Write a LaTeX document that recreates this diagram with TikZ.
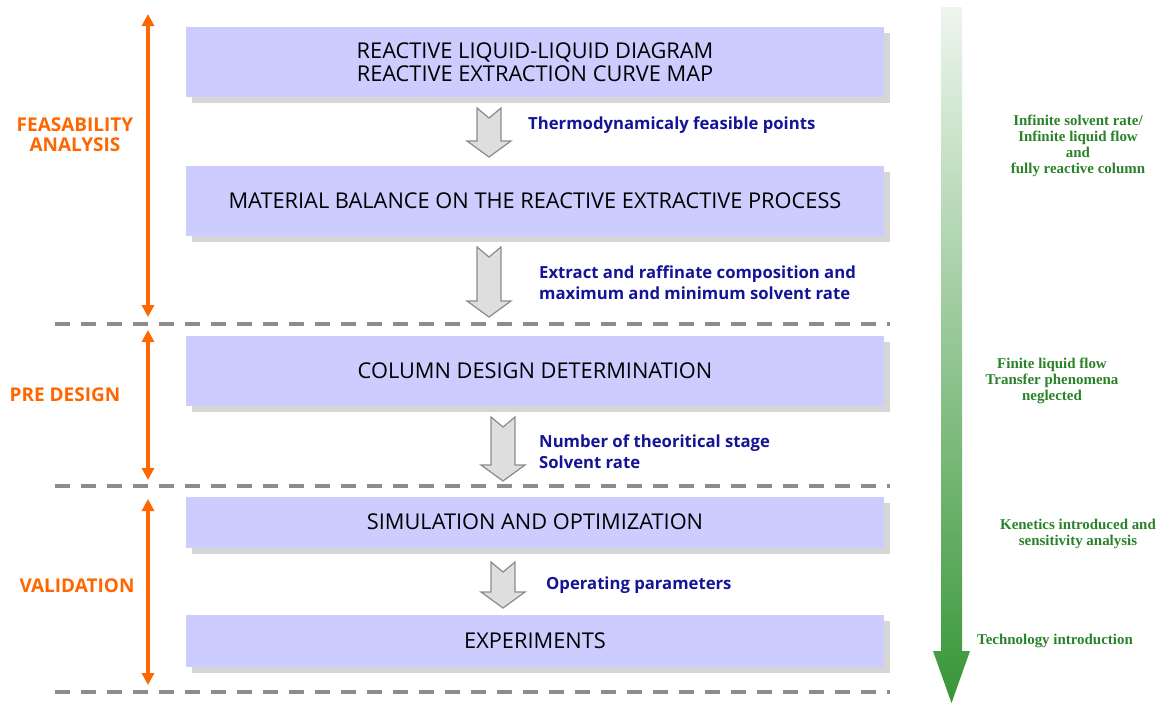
\documentclass[tikz,border=0pt]{standalone}
\usepackage{fontspec}
\setmainfont{Open Sans}
\newfontfamily\notefont{Liberation Serif}
\usetikzlibrary{arrows.meta, positioning, shadows}

\definecolor{BoxLilac}{RGB}{204, 204, 255}
\definecolor{StageOrange}{RGB}{255, 102, 0}
\definecolor{NoteBlue}{RGB}{20, 20, 150}
\definecolor{NoteGreen}{RGB}{40, 130, 40}
\definecolor{ArrowGreen}{RGB}{55, 150, 55}
\definecolor{DashGray}{RGB}{140, 140, 140}

\tikzset{
    pics/downblock/.style={code={
        \draw[blockarrow] (-12,0) -- (0,10) -- (12,0) -- (12,#1-16) -- (22,#1-16)
            -- (0,#1) -- (-22,#1-16) -- (-12,#1-16) -- cycle;
    }}
}

\begin{document}
\begin{tikzpicture}[
        x=0.02cm, y=-0.02cm,
        stagebox/.style={rectangle, fill=BoxLilac, minimum width=13.96cm, minimum height=1.4cm, align=center, font=\fontsize{12.4}{13.2}\selectfont, drop shadow={shadow xshift=0.12cm, shadow yshift=-0.12cm, fill=black!16, opacity=1}},
        phase/.style={text=StageOrange, font=\bfseries\fontsize{10.8}{11.5}\selectfont, align=center},
        result/.style={text=NoteBlue, font=\bfseries\fontsize{9.5}{12}\selectfont, align=left, anchor=west},
        hypothesis/.style={text=NoteGreen, font=\notefont\bfseries\fontsize{8.5}{9.2}\selectfont, align=center},
        span/.style={{Triangle[length=2.4mm,width=2.4mm]}-{Triangle[length=2.4mm,width=2.4mm]}, StageOrange, line width=2.2pt},
        divider/.style={DashGray, line width=2.2pt, dash pattern=on 0.3cm off 0.22cm},
        blockarrow/.style={draw=black!45, fill=black!13, line width=0.7pt, line join=miter}
    ]
        \useasboundingbox (0,0) rectangle (1161,704);

        % Steps
        \node[stagebox] (diagram) at (535,62) {REACTIVE LIQUID-LIQUID DIAGRAM\\REACTIVE EXTRACTION CURVE MAP};
        \node[stagebox] (balance) at (535,201) {MATERIAL BALANCE ON THE REACTIVE EXTRACTIVE PROCESS};
        \node[stagebox] (column) at (535,371) {COLUMN DESIGN DETERMINATION};
        \node[stagebox, minimum height=1.02cm] (simul) at (535,522) {SIMULATION AND OPTIMIZATION};
        \node[stagebox, minimum height=1.04cm] (experiments) at (535,641) {EXPERIMENTS};

        % Block arrows
        \pic at (489,108) {downblock=49};
        \pic at (489,247) {downblock=70};
        \pic at (503,417) {downblock=64};
        \pic at (503,562) {downblock=46};

        % Results
        \node[result] (points) at (522,125) {Thermodynamicaly feasible points};
        \node[result] (composition) at (533,283) {Extract and raffinate composition and\\maximum and minimum solvent rate};
        \node[result] (stages) at (533,452) {Number of theoritical stage\\Solvent rate};
        \node[result] (parameters) at (540,585) {Operating parameters};

        % Phases
        \coordinate (d1l) at (55,324);
        \coordinate (d1r) at (890,324);
        \coordinate (d2l) at (55,486);
        \coordinate (d2r) at (890,486);
        \coordinate (d3l) at (55,692);
        \coordinate (d3r) at (890,692);
        \draw[divider] (d1l) -- (d1r);
        \draw[divider] (d2l) -- (d2r);
        \draw[divider] (d3l) -- (d3r);

        \coordinate (feasTop) at (148,14);
        \coordinate (feasBot) at (148,317);
        \coordinate (preTop) at (148,330);
        \coordinate (preBot) at (148,480);
        \coordinate (valTop) at (148,499);
        \coordinate (valBot) at (148,685);
        \draw[span] (feasTop) -- (feasBot);
        \draw[span] (preTop) -- (preBot);
        \draw[span] (valTop) -- (valBot);

        \node[phase] (feasability) at (75,135) {FEASABILITY\\ANALYSIS};
        \node[phase] (predesign) at (65,395) {PRE DESIGN};
        \node[phase] (validation) at (77,586) {VALIDATION};

        % Level of detail
        \shade[top color=NoteGreen!8, bottom color=ArrowGreen] (941,7) -- (962,7) -- (962,651) -- (970,651)
            -- (951.5,703) -- (933,651) -- (941,651) -- cycle;

        \node[hypothesis] (infinite) at (1078,146) {Infinite solvent rate/\\Infinite liquid flow\\and\\fully reactive column};
        \node[hypothesis] (finite) at (1052,381) {Finite liquid flow\\Transfer phenomena\\neglected};
        \node[hypothesis] (kinetics) at (1078,534) {Kenetics introduced and\\sensitivity analysis};
        \node[hypothesis] (technology) at (1055,641) {Technology introduction};
    \end{tikzpicture}
\end{document}
